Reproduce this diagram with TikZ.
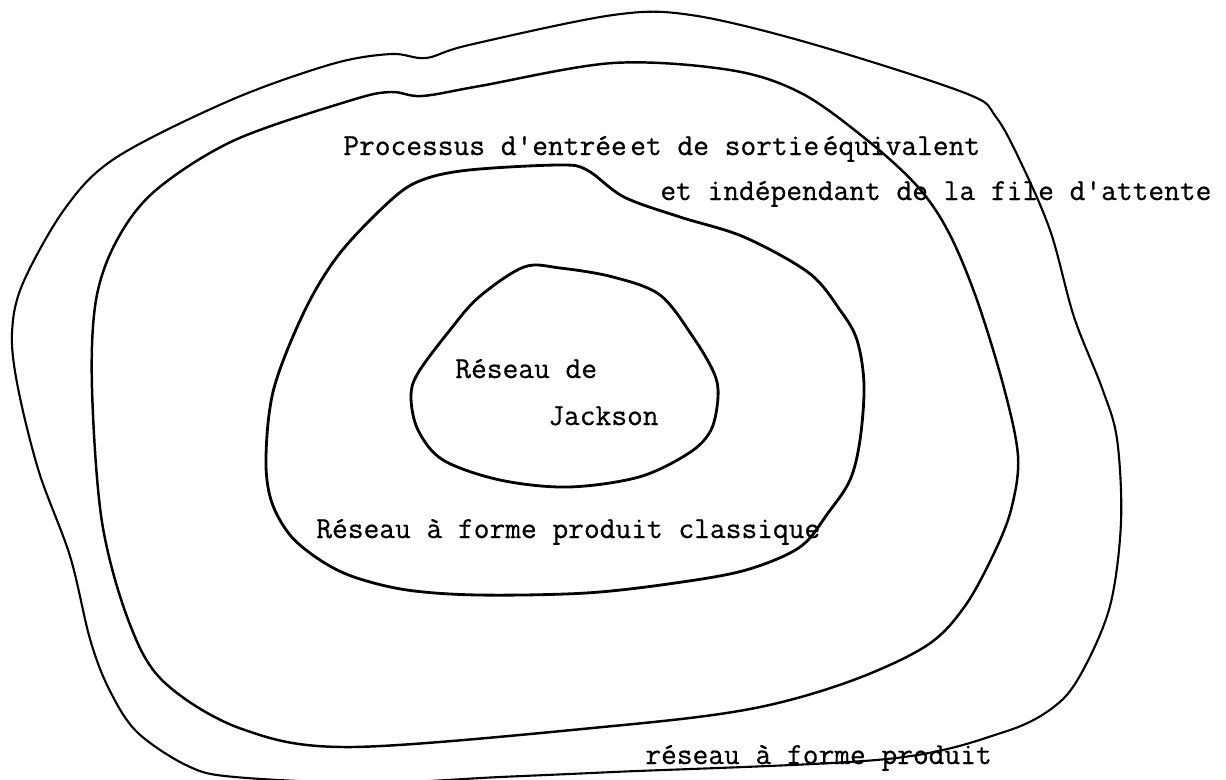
\documentclass[tikz,border=0pt]{standalone}
\usepackage{fontspec}
\newfontfamily\typewriter{Latin Modern Mono}[FakeBold=0.6]
\begin{document}
\begin{tikzpicture}[x=0.02cm,y=-0.02cm,
  curve/.style={black,line width=1.6pt,line join=round},
  thincurve/.style={black,line width=1.2pt,line join=round},
  lbl/.style={anchor=base west,inner sep=0pt,font=\fontsize{17.4pt}{20pt}\selectfont\typewriter}]
\useasboundingbox (0,0) rectangle (1226,779);
% outer curve
\draw[thincurve] plot[smooth cycle,tension=0.55] coordinates {
 (18,388) (12,333) (23,283) (66,207) (117,157) (231,100) (332,64) (391,54) (426,58) (469,45)
 (613,15) (691,15) (809,43) (965,93) (996,117) (1023,167) (1051,233) (1074,317) (1102,388)
 (1117,439) (1121,522) (1110,606) (1082,672) (1055,706) (1004,732) (887,759) (613,772)
 (500,777) (370,783) (235,777) (188,766) (137,732) (109,689) (90,639) (70,556) (39,472)};
% second curve
\draw[curve,line width=1.4pt] plot[smooth cycle,tension=0.55] coordinates {
 (92,388) (96,300) (117,240) (156,190) (235,140) (352,100) (391,92) (422,96) (480,86) (613,63)
 (730,70) (801,93) (867,140) (918,187) (949,233) (977,300) (1004,388) (1018,456) (1012,506)
 (996,549) (965,606) (926,646) (848,682) (750,709) (613,726) (352,747) (242,729) (164,682)
 (129,622) (102,522)};
% third curve
\draw[curve] plot[smooth cycle,tension=0.55] coordinates {
 (274,388) (305,310) (340,253) (391,200) (422,180) (469,170) (559,165) (587,170) (624,197)
 (680,217) (744,237) (809,273) (840,310) (857,340) (864,385) (860,440) (850,480) (828,513)
 (800,547) (746,570) (675,583) (586,593) (479,595) (407,590) (354,577) (320,560) (290,535)
 (271,500) (266,456)};
% inner curve
\draw[curve] plot[smooth cycle,tension=0.55] coordinates {
 (411,397) (418,373) (450,330) (479,297) (524,267) (560,268) (613,277) (660,295) (693,337)
 (714,373) (718,397) (711,430) (689,453) (639,477) (568,487) (500,480) (443,460) (418,430)};
% labels
\node[lbl] (t1) at (343,155) {Processus d'entrée\kern-0.4em{} et de sortie\kern-0.4em{} équivalent};
\node[lbl] (t2) at (660,200) {et indépendant de la file d'attente};
\node[lbl] (t3) at (455,378) {Réseau de};
\node[lbl] (t4) at (548,425) {Jackson};
\node[lbl] (t5) at (316,538) {Réseau à forme produit classique};
\node[lbl] (t6) at (645,764) {réseau à forme produit};
\end{tikzpicture}
\end{document}
